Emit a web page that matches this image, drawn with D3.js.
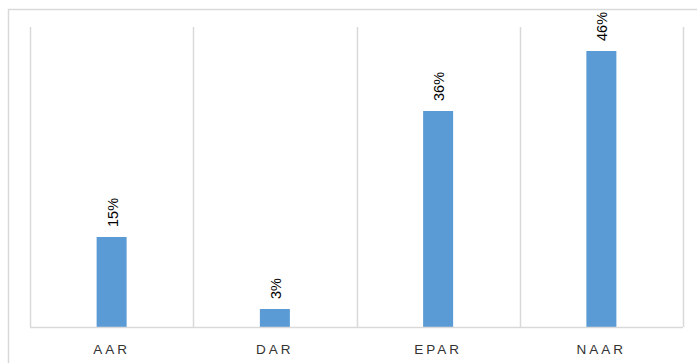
<!DOCTYPE html>
<html>
<head>
<meta charset="utf-8">
<script src="https://cdn.jsdelivr.net/npm/d3@7"></script>
<style>
  html, body { margin: 0; padding: 0; background: #fff; }
  svg { display: block; }
</style>
</head>
<body>
<div id="chart"></div>
<script>
// data
const categories = ["AAR", "DAR", "EPAR", "NAAR"];
const values = [15, 3, 36, 46];
const yMax = 50;

const width = 697;
const height = 363;
const margin = { top: 27, right: 14, bottom: 36, left: 30 };
const innerW = width - margin.left - margin.right;
const innerH = height - margin.top - margin.bottom;

const svg = d3.select("#chart").append("svg")
  .attr("width", width)
  .attr("height", height);

// outer chart border (runs off the right/bottom edge)
svg.append("rect")
  .attr("x", 8.5)
  .attr("y", 9.5)
  .attr("width", width + 20)
  .attr("height", height + 20)
  .attr("fill", "none")
  .attr("stroke", "#d9d9d9")
  .attr("stroke-width", 1.5);

const g = svg.append("g")
  .attr("transform", `translate(${margin.left},${margin.top})`);

const x = d3.scaleBand().domain(categories).range([0, innerW]);
const y = d3.scaleLinear().domain([0, yMax]).range([innerH, 0]);

// vertical gridlines at category boundaries
const bounds = categories.map(c => x(c)).concat([innerW]);
g.selectAll(".vgrid")
  .data(bounds)
  .enter().append("line")
  .attr("class", "vgrid")
  .attr("x1", d => Math.round(d) + 0.5)
  .attr("x2", d => Math.round(d) + 0.5)
  .attr("y1", 0)
  .attr("y2", innerH)
  .attr("stroke", "#d9d9d9")
  .attr("stroke-width", 1.5);

// bars
const barW = 30;
g.selectAll(".bar")
  .data(values)
  .enter().append("rect")
  .attr("class", "bar")
  .attr("x", (d, i) => x(categories[i]) + x.bandwidth() / 2 - barW / 2)
  .attr("y", d => y(d))
  .attr("width", barW)
  .attr("height", d => innerH - y(d))
  .attr("fill", "#5b9bd5");

// x axis line
g.append("line")
  .attr("x1", 0)
  .attr("x2", innerW)
  .attr("y1", innerH + 0.5)
  .attr("y2", innerH + 0.5)
  .attr("stroke", "#d9d9d9")
  .attr("stroke-width", 1.5);

// value labels, rotated
g.selectAll(".val")
  .data(values)
  .enter().append("text")
  .attr("class", "val")
  .attr("transform", (d, i) => {
    const cx = x(categories[i]) + x.bandwidth() / 2 + 1;
    return `translate(${cx},${y(d) - 10}) rotate(-90)`;
  })
  .attr("dy", "0.35em")
  .attr("text-anchor", "start")
  .attr("font-family", "'Liberation Sans Narrow', 'Liberation Sans', Arial, sans-serif")
  .attr("font-size", 14.5)
  .attr("fill", "#000")
  .text(d => d + "%");

// category labels
g.selectAll(".cat")
  .data(categories)
  .enter().append("text")
  .attr("class", "cat")
  .attr("x", d => x(d) + x.bandwidth() / 2)
  .attr("y", innerH + 27)
  .attr("text-anchor", "middle")
  .attr("font-family", "'Liberation Sans', Arial, sans-serif")
  .attr("font-size", 13.5)
  .attr("letter-spacing", "3px")
  .attr("fill", "#333")
  .text(d => d);
</script>
</body>
</html>
